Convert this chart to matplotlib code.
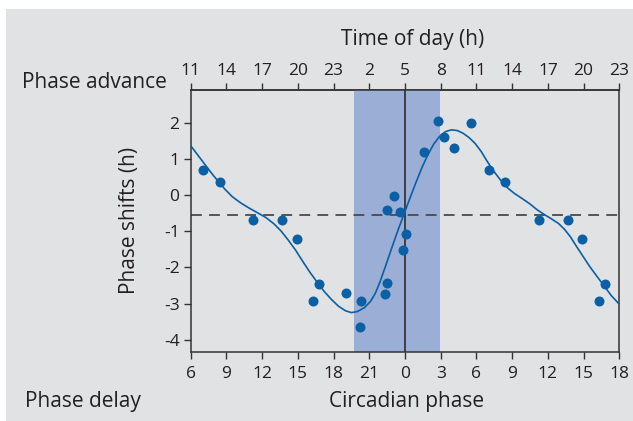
import matplotlib
matplotlib.use("Agg")
import matplotlib.pyplot as plt
from matplotlib.patches import Rectangle

plt.rcParams['font.family'] = ['Open Sans', 'DejaVu Sans']

# fase circadiana (h) y desplazamiento de fase (h) de cada sujeto
fase = [7.03, 8.43, 11.23, 13.69, 14.89, 16.26, 16.8, 19.05, 20.22, 20.33,
        22.33, 22.5, 22.5, 23.07, 23.57, 23.85, 0.08, 1.57, 2.77, 3.27,
        4.08, 5.54]
desplazamiento = [0.70, 0.36, -0.68, -0.70, -1.22, -2.92, -2.46, -2.71, -3.64, -2.94,
                  -2.74, -2.44, -0.42, -0.04, -0.48, -1.52, -1.07, 1.20, 2.03, 1.61,
                  1.29, 2.00]

# curva ajustada (eje circadiano desplegado de 6 a 42 h)
curva_x = [6.0, 6.6, 7.2, 7.8, 8.3, 8.9, 9.5, 10.2, 10.9, 11.6, 12.3, 13.0,
           13.6, 14.2, 14.8, 15.4, 16.0, 16.6, 17.2, 17.8, 18.4, 19.0, 19.5,
           20.0, 20.6, 21.1, 21.5, 21.9, 22.4, 22.9, 23.4, 23.9, 24.4, 24.9,
           25.4, 25.9, 26.4, 26.9, 27.4, 27.9, 28.4, 28.9, 29.4, 29.9, 30.4,
           30.9, 31.4, 32.0, 32.6, 33.2, 33.8, 34.5, 35.1, 35.7, 36.3, 36.9,
           37.4, 37.9, 38.4, 39.0, 39.5, 40.1, 40.7, 41.3, 42.0]
curva_y = [1.36, 1.10, 0.84, 0.58, 0.38, 0.15, -0.05, -0.22, -0.36, -0.49, -0.62, -0.80,
           -1.00, -1.25, -1.52, -1.83, -2.13, -2.40, -2.66, -2.88, -3.07, -3.20, -3.25,
           -3.22, -3.11, -2.94, -2.72, -2.40, -1.93, -1.45, -0.98, -0.54, -0.10, 0.33,
           0.74, 1.10, 1.40, 1.62, 1.75, 1.80, 1.78, 1.70, 1.58, 1.42, 1.20,
           0.93, 0.68, 0.42, 0.20, 0.04, -0.09, -0.25, -0.41, -0.54, -0.66, -0.79,
           -0.95, -1.16, -1.42, -1.72, -1.97, -2.24, -2.50, -2.77, -3.02]

ticks_fase = [6, 9, 12, 15, 18, 21, 24, 27, 30, 33, 36, 39, 42]
etiquetas_fase = ['6', '9', '12', '15', '18', '21', '0', '3', '6', '9', '12', '15', '18']
etiquetas_hora = ['11', '14', '17', '20', '23', '2', '5', '8', '11', '14', '17', '20', '23']
ticks_y = [-4, -3, -2, -1, 0, 1, 2]
etiquetas_y = ['-4', '-3', '-2', '-1', '0', '1', '2']

franja = (19.7, 26.9)      # ventana sombreada
linea_media = -0.55        # desplazamiento medio

gris = '#e1e2e4'
azul = '#0b5fa5'
tinta = '#231f20'

fig = plt.figure(figsize=(6.33, 4.21), dpi=100)
fig.patch.set_facecolor('white')
fig.patches.append(Rectangle((6 / 633, 0), 1, 1 - 9 / 421, transform=fig.transFigure,
                             facecolor=gris, edgecolor='none', zorder=-10))

ax = fig.add_axes([0.3013, 0.1646, 0.6771, 0.6216])
ax.set_facecolor(gris)

# puntos en doble gráfico (fase y fase + 24 h)
px, py = [], []
for f, d in zip(fase, desplazamiento):
    for x in (f, f + 24):
        if 6 <= x <= 42:
            px.append(x)
            py.append(d)

ax.axvspan(franja[0], franja[1], color='#9baed6', lw=0, zorder=1)
ax.axvline(24, color=tinta, lw=1.1, zorder=2)
ax.axhline(linea_media, color='#4a4a4a', lw=1.3, dashes=(6, 4), zorder=2)
ax.plot(curva_x, curva_y, color=azul, lw=1.2, zorder=3)
ax.plot(px, py, 'o', color=azul, ms=7.2, mec='none', zorder=4)

ax.set_xlim(6, 42)
ax.set_ylim(-4.33, 2.9)
ax.set_xticks(ticks_fase)
ax.set_xticklabels(etiquetas_fase)
ax.set_yticks(ticks_y)
ax.set_yticklabels(etiquetas_y)

for s in ax.spines.values():
    s.set_color('#333333')
    s.set_linewidth(1.1)
ax.tick_params(axis='both', direction='out', length=5, width=1.0, color='#333333',
               labelsize=12.5, labelcolor=tinta, pad=3)
ax.tick_params(axis='x', pad=5)

arriba = ax.secondary_xaxis('top')
arriba.set_xticks(ticks_fase)
arriba.set_xticklabels(etiquetas_hora)
arriba.tick_params(direction='out', length=5, width=1.0, color='#333333',
                   labelsize=12.5, labelcolor=tinta, pad=3)
arriba.spines['top'].set_color('#333333')
arriba.spines['top'].set_linewidth(1.1)

ax.set_ylabel('Phase shifts (h)', fontsize=15, color=tinta, labelpad=17)

fig.text(413 / 633, 1 - 40 / 421, 'Time of day (h)', ha='center', va='center',
         fontsize=15, color=tinta)
fig.text(407 / 633, 1 - 402 / 421, 'Circadian phase', ha='center', va='center',
         fontsize=15, color=tinta)
fig.text(22 / 633, 1 - 83 / 421, 'Phase advance', ha='left', va='center',
         fontsize=15, color=tinta)
fig.text(25 / 633, 1 - 402 / 421, 'Phase delay', ha='left', va='center',
         fontsize=15, color=tinta)

fig.savefig('out.png', dpi=100, facecolor=fig.get_facecolor())
